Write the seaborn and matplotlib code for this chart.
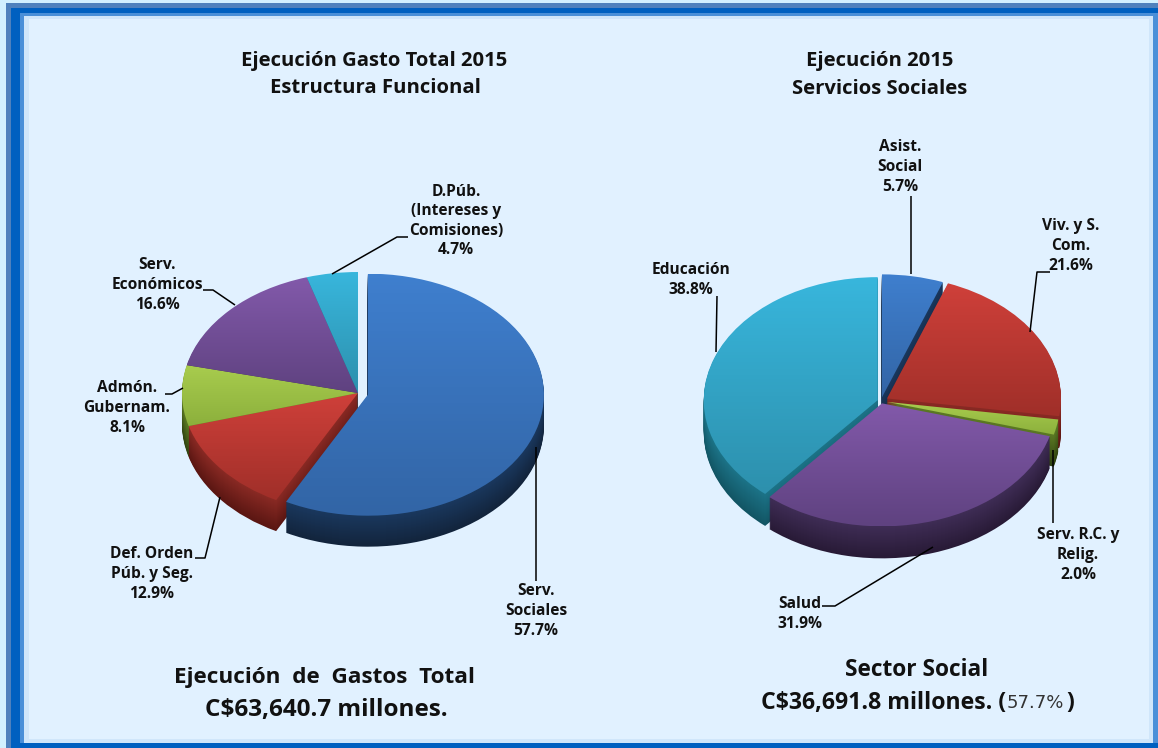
import numpy as np
import seaborn as sns
import matplotlib.pyplot as plt
from matplotlib.colors import to_rgb
from matplotlib.patches import Rectangle

# =============================================================================
# Data
# =============================================================================
total_labels = ['Serv.\nSociales\n57.7%', 'Def. Orden\nPúb. y Seg.\n12.9%', 'Admón.\nGubernam.\n8.1%',
                'Serv.\nEconómicos\n16.6%', 'D.Púb.\n(Intereses y\nComisiones)\n4.7%']
total_values = [57.7, 12.9, 8.1, 16.6, 4.7]

social_labels = ['Asist.\nSocial\n5.7%', 'Viv. y S.\nCom.\n21.6%', 'Serv. R.C. y\nRelig.\n2.0%',
                 'Salud\n31.9%', 'Educación\n38.8%']
social_values = [5.7, 21.6, 2.0, 31.9, 38.8]

# =============================================================================
# Styles
# =============================================================================
W, H = 1158, 748
BLUE = ('#3f7fce', '#3265a6', '#1a385e', '#12243c')
RED = ('#cf403a', '#a02f29', '#8a2a24', '#5a1612')
GREEN = ('#a8cc4e', '#8cb03c', '#5c7a24', '#2f4210')
PURPLE = ('#8259aa', '#5f4280', '#3f2d56', '#281a36')
CYAN = ('#38b6dc', '#2d90ad', '#1c7488', '#125564')

total_colors = [BLUE, RED, GREEN, PURPLE, CYAN]
social_colors = [BLUE, RED, GREEN, PURPLE, CYAN]
total_explode = [0.058, 0, 0, 0, 0]
social_explode = [0.03, 0.04, 0.03, 0.02, 0.02]

total_label_pos = [(536, 611), (152, 574), (127, 408), (157, 285), (456, 221)]
social_label_pos = [(900, 167), (1071, 246), (1078, 555), (800, 614), (691, 280)]

leaders = [
    [(536, 447), (536, 581)],
    [(220, 497), (205, 558), (195, 558)],
    [(183, 388), (172, 394), (165, 394)],
    [(203, 290), (213, 290), (235, 305)],
    [(332, 274), (397, 237), (408, 237)],
    [(911, 196), (911, 274)],
    [(1030, 332), (1037, 272), (1050, 272)],
    [(1053, 450), (1053, 523)],
    [(933, 547), (835, 606), (822, 606)],
    [(716, 352), (717, 296)],
]


def px_axes(fig, cx, cy, rx, ry):
    # axes whose data units are pie radii, squashed to look tilted
    x0, x1, y0, y1 = -1.3, 1.3, -1.6, 1.3
    ax = fig.add_axes([(cx + x0 * rx) / W, 1 - (cy - y0 * ry) / H,
                       (x1 - x0) * rx / W, (y1 - y0) * ry / H], zorder=1)
    return ax, (x0, x1, y0, y1)


def gradient(top, bottom, n=64):
    a, b = np.array(to_rgb(top)), np.array(to_rgb(bottom))
    return np.linspace(a, b, n)[:, None, :]


def pie3d(fig, values, colors, explode, cx, cy, rx, ry, depth):
    ax, (x0, x1, y0, y1) = px_axes(fig, cx, cy, rx, ry)
    steps = np.arange(depth, 0, -1)
    for s in steps:
        f = 1 - s / depth
        cols = [tuple(np.array(to_rgb(c[3])) * (1 - f) + np.array(to_rgb(c[2])) * f) for c in colors]
        w, _ = ax.pie(values, colors=cols, explode=explode, startangle=90, counterclock=False,
                      center=(0, -s / ry), radius=1, frame=False)
        for p in w:
            p.set_linewidth(0)
            p.set_edgecolor('none')
    wedges, _ = ax.pie(values, colors=[c[0] for c in colors], explode=explode, startangle=90,
                       counterclock=False, center=(0, 0), radius=1)
    for p, c in zip(wedges, colors):
        b = p.get_path().get_extents()
        p.set_facecolor('none')
        p.set_edgecolor('none')
        p.set_linewidth(0)
        im = ax.imshow(gradient(c[0], c[1]), extent=(b.x0, b.x1, b.y0, b.y1), origin='upper',
                       aspect='auto', zorder=5)
        im.set_clip_path(p)
    ax.set_aspect('auto')
    ax.set_xlim(x0, x1)
    ax.set_ylim(y0, y1)
    ax.axis('off')
    return ax


if __name__ == "__main__":

    sns.set_style("white")
    plt.rcParams['font.family'] = ['Open Sans', 'DejaVu Sans']
    fig = plt.figure(figsize=(W / 100, H / 100), dpi=100, facecolor='#d2f0ff')

    # frame
    bg = fig.add_axes([0, 0, 1, 1], zorder=0)
    bg.set_xlim(0, W)
    bg.set_ylim(H, 0)
    bg.axis('off')
    for x0, y0, x1, y1, col in [(6, 3, W, H, '#4f81bd'), (11, 8, W, H, '#0060c0'),
                                (20, 13, 1158, 743, '#4a8fd8'), (24, 16, 1153, 743, '#d0e6fa'),
                                (29, 19, 1149, 739, '#e1f1ff')]:
        bg.add_patch(Rectangle((x0, y0), x1 - x0, y1 - y0, color=col, lw=0))

    pie3d(fig, total_values, total_colors, total_explode, 358, 393, 176, 121, 31)
    pie3d(fig, social_values, social_colors, social_explode, 881, 401, 174, 123, 32)

    # texts and leader lines on top
    ax = fig.add_axes([0, 0, 1, 1], zorder=2)
    ax.patch.set_alpha(0)
    ax.set_xlim(0, W)
    ax.set_ylim(H, 0)
    ax.axis('off')

    for pts in leaders:
        xs, ys = zip(*pts)
        ax.plot(xs, ys, color='black', lw=1.1, solid_capstyle='butt')

    def label(x, y, s, size=11.2, **kw):
        ax.text(x, y, s, ha=kw.pop('ha', 'center'), va='center', fontsize=size, color=kw.pop('color', '#111111'),
                fontweight=kw.pop('fontweight', 'bold'), parse_math=False, linespacing=1.3, **kw)

    for (x, y), s in zip(total_label_pos + social_label_pos, total_labels + social_labels):
        label(x, y, s)

    label(374, 61, 'Ejecución Gasto Total 2015', size=14.6)
    label(375, 88, 'Estructura Funcional', size=14.6)
    label(880, 61, 'Ejecución 2015', size=14.6)
    label(880, 89, 'Servicios Sociales', size=14.6)

    label(324, 678, 'Ejecución  de  Gastos  Total', size=16.2)
    label(326, 710, 'C$63,640.7 millones.', size=17.5)
    label(917, 670, 'Sector Social', size=16.3)
    label(1006, 703, 'C$36,691.8 millones. (', size=16.7, ha='right')
    label(1007, 703, '57.7%', size=13, ha='left', fontweight='normal', color='#333333', family='DejaVu Sans')
    label(1066, 703, ')', size=16.7, ha='left')

    fig.savefig('out.png', dpi=100, facecolor=fig.get_facecolor())
